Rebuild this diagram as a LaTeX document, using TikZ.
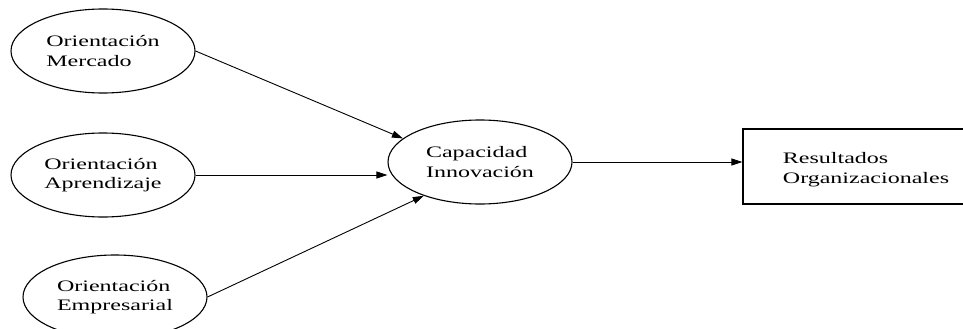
\documentclass[tikz,border=0pt]{standalone}
\usepackage{fontspec}
\setmainfont[FakeStretch=1.5]{Liberation Serif}
\usetikzlibrary{arrows.meta,shapes.geometric}
\begin{document}
\begin{tikzpicture}[x=1pt,y=-1pt,
  txt/.style={font=\fontsize{16}{19.5}\selectfont,align=left},
  construct/.style={ellipse,draw,line width=1.1pt,minimum width=184pt,minimum height=84pt,inner sep=0pt,txt},
  outcome/.style={draw,line width=1.1pt,minimum width=226pt,minimum height=75pt,inner sep=0pt},
  link/.style={-{Triangle[length=11pt,width=7pt]},line width=0.9pt}
]
\useasboundingbox (0,0) rectangle (963,329);

% antecedents
\node[construct] (om) at (103,51)  {Orientación\\Mercado};
\node[construct] (oa) at (103,175) {Orientación\\Aprendizaje};
\node[construct] (oe) at (115,297) {Orientación\\Empresarial};

% mediator
\node[construct] (ci) at (480,162) {Capacidad\\Innovación};

% outcome box, open to the right
\node[outcome] (ro) at (856,166.5) {};
\node[txt] (rt) at (866,169.5) {Resultados\\Organizacionales};

% paths
\draw[link] (om.east) -- (ci.163);
\draw[link] (oa.east) -- (oa.east -| ci.west);
\draw[link] (oe.east) -- (ci.211);
\draw[link] (ci.east) -- (ci.east -| ro.west);
\end{tikzpicture}
\end{document}
